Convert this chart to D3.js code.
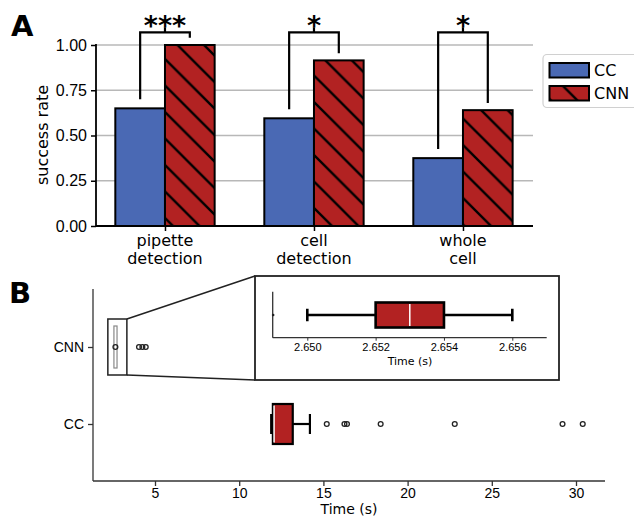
<!DOCTYPE html>
<html>
<head>
<meta charset="utf-8">
<script src="https://cdn.jsdelivr.net/npm/d3@7"></script>
<style>
  body { margin: 0; background: #fff; }
  svg { font-family: "DejaVu Sans", sans-serif; }
</style>
</head>
<body>
<div id="chart"></div>
<script>
// panel A data
var groups = ["pipette\ndetection", "cell\ndetection", "whole\ncell"];
var ccRate = [0.65, 0.595, 0.375];
var cnnRate = [1.0, 0.915, 0.64];
var stars = ["***", "*", "*"];
var rateTicks = [0, 0.25, 0.5, 0.75, 1.0];

// panel B data (whisker low, q1, median, q3, whisker high)
var methods = ["CNN", "CC"];
var ccBox = [11.9, 12.0, 12.07, 13.18, 14.2];
var ccOutliers = [15.2, 16.25, 16.4, 18.4, 22.8, 29.2, 30.4];
var cnnBox = [2.650, 2.652, 2.653, 2.654, 2.656];
var cnnOutliers = [2.649, 4.05, 4.25, 4.45];
var timeTicks = [5, 10, 15, 20, 25, 30];
var insetTicks = [2.650, 2.652, 2.654, 2.656];

var blue = "#4a69b4", red = "#b22222";

var svg = d3.select("#chart").append("svg")
    .attr("width", 634).attr("height", 516);

// hatch pattern for CNN bars
var defs = svg.append("defs");
var hs = 26.5;
var pat = defs.append("pattern")
    .attr("id", "hatch")
    .attr("patternUnits", "userSpaceOnUse")
    .attr("width", hs).attr("height", hs);
pat.append("rect").attr("width", hs).attr("height", hs).attr("fill", red);
pat.append("path")
    .attr("d", "M-2,-2L" + (hs + 2) + "," + (hs + 2) + "M" + (hs - 2) + ",-2L" + (hs + 2) + ",2M-2," + (hs - 2) + "L2," + (hs + 2))
    .attr("stroke", "#000").attr("stroke-width", 2.4);

// ---------- panel A ----------
var xA = d3.scaleLinear().domain([-0.463, 2.47]).range([96, 533]);
var yA = d3.scaleLinear().domain([0, 1]).range([226, 45]);
var bw = 1 / 3;

var gA = svg.append("g");

// grid
gA.selectAll(".grid").data(rateTicks.slice(1)).enter().append("line")
    .attr("x1", xA.range()[0]).attr("x2", xA.range()[1])
    .attr("y1", d => yA(d)).attr("y2", d => yA(d))
    .attr("stroke", "#b8b8b8").attr("stroke-width", 1.3);

// bars
gA.selectAll(".cc").data(ccRate).enter().append("rect")
    .attr("x", (d, i) => xA(i - bw))
    .attr("width", xA(bw) - xA(0))
    .attr("y", d => yA(d))
    .attr("height", d => yA(0) - yA(d))
    .attr("fill", blue).attr("stroke", "#000").attr("stroke-width", 2);

gA.selectAll(".cnn").data(cnnRate).enter().append("rect")
    .attr("x", (d, i) => xA(i))
    .attr("width", xA(bw) - xA(0))
    .attr("y", d => yA(d))
    .attr("height", d => yA(0) - yA(d))
    .attr("fill", "url(#hatch)").attr("stroke", "#000").attr("stroke-width", 2);

// axes
var yAxisA = d3.axisLeft(yA).tickValues(rateTicks).tickFormat(d3.format(".2f")).tickSize(5).tickPadding(4);
var ay = gA.append("g").attr("transform", "translate(96,0)").call(yAxisA);
ay.select(".domain").attr("stroke-width", 1.8).attr("d", "M0," + yA(0) + "V" + (yA(1) - 1));
ay.selectAll(".tick line").attr("stroke-width", 1.5);
ay.selectAll("text").attr("font-size", 16).attr("fill", "#000");

var xAxisA = d3.axisBottom(xA).tickValues([0, 1, 2]).tickFormat("").tickSize(5);
var ax = gA.append("g").attr("transform", "translate(0,226)").call(xAxisA);
ax.select(".domain").attr("stroke-width", 1.8).attr("d", "M96,0H533");
ax.selectAll(".tick line").attr("stroke-width", 1.5);

groups.forEach(function(g, i) {
  var t = gA.append("text").attr("text-anchor", "middle").attr("font-size", 16);
  g.split("\n").forEach(function(line, j) {
    t.append("tspan").attr("x", xA(i)).attr("y", 246 + j * 18).text(line);
  });
});

gA.append("text")
    .attr("transform", "translate(48,135) rotate(-90)")
    .attr("text-anchor", "middle").attr("font-size", 16)
    .text("success rate");

// significance brackets
var topY = yA(1.07);
groups.forEach(function(g, i) {
  var xl = xA(i - bw / 2), xr = xA(i + bw / 2), xm = (xl + xr) / 2;
  gA.append("path")
      .attr("d", "M" + xl + "," + yA(ccRate[i] + 0.05) + "V" + topY + "H" + xr + "V" + yA(cnnRate[i] + 0.04) +
                 "M" + xm + "," + topY + "V" + (topY - 5))
      .attr("fill", "none").attr("stroke", "#000").attr("stroke-width", 2.2);
  gA.append("text")
      .attr("x", xm).attr("y", topY + 3)
      .attr("text-anchor", "middle").attr("font-size", 27).attr("font-weight", "bold")
      .text(stars[i]);
});

// legend
var lg = svg.append("g");
lg.append("rect").attr("x", 543).attr("y", 54.5).attr("width", 100).attr("height", 53)
    .attr("rx", 4).attr("fill", "#fff").attr("stroke", "#d0d0d0").attr("stroke-width", 1.2);
lg.append("rect").attr("x", 549.5).attr("y", 63).attr("width", 39.5).attr("height", 14.5)
    .attr("fill", blue).attr("stroke", "#000").attr("stroke-width", 2);
lg.append("rect").attr("x", 549.5).attr("y", 86).attr("width", 39.5).attr("height", 14.5)
    .attr("fill", "url(#hatch)").attr("stroke", "#000").attr("stroke-width", 2);
lg.append("text").attr("x", 594).attr("y", 76).attr("font-size", 16).text("CC");
lg.append("text").attr("x", 594).attr("y", 99).attr("font-size", 16).text("CNN");

// panel letters
svg.append("text").attr("x", 11).attr("y", 36).attr("font-size", 29).attr("font-weight", "bold").text("A");
svg.append("text").attr("x", 9).attr("y", 303).attr("font-size", 29).attr("font-weight", "bold").text("B");

// ---------- panel B ----------
var xB = d3.scaleLinear().domain([5, 30]).range([155, 576]);
var yB = d3.scalePoint().domain(methods).range([347, 424]);
var gB = svg.append("g");

var xAxisB = d3.axisBottom(xB).tickValues(timeTicks).tickSize(5).tickPadding(2);
var bx = gB.append("g").attr("transform", "translate(0,481)").call(xAxisB);
bx.select(".domain").attr("d", "M93,0H605").attr("stroke", "#333").attr("stroke-width", 1.3);
bx.selectAll(".tick line").attr("stroke", "#333").attr("stroke-width", 1.3);
bx.selectAll("text").attr("font-size", 14).attr("fill", "#000");

var yAxisB = d3.axisLeft(yB).tickSize(5).tickPadding(4);
var by = gB.append("g").attr("transform", "translate(93,0)").call(yAxisB);
by.select(".domain").attr("d", "M0,289V481").attr("stroke", "#333").attr("stroke-width", 1.3);
by.selectAll(".tick line").attr("stroke", "#333").attr("stroke-width", 1.3);
by.selectAll("text").attr("font-size", 14).attr("fill", "#000");

gB.append("text").attr("x", 349).attr("y", 514).attr("text-anchor", "middle")
    .attr("font-size", 14).text("Time (s)");

// box with whiskers, caps and a white median line
function drawBox(g, x, yc, h, b, opts) {
  g.append("line").attr("x1", x(b[0])).attr("x2", x(b[1])).attr("y1", yc).attr("y2", yc)
      .attr("stroke", "#000").attr("stroke-width", opts.lw);
  g.append("line").attr("x1", x(b[3])).attr("x2", x(b[4])).attr("y1", yc).attr("y2", yc)
      .attr("stroke", "#000").attr("stroke-width", opts.lw);
  [b[0], b[4]].forEach(function(v) {
    g.append("line").attr("x1", x(v)).attr("x2", x(v)).attr("y1", yc - h / 2).attr("y2", yc + h / 2)
        .attr("stroke", "#000").attr("stroke-width", opts.lw);
  });
  g.append("rect").attr("x", x(b[1])).attr("width", x(b[3]) - x(b[1]))
      .attr("y", yc - h).attr("height", 2 * h)
      .attr("fill", red).attr("stroke", "#000").attr("stroke-width", opts.lw);
  g.append("line").attr("x1", x(b[2])).attr("x2", x(b[2])).attr("y1", yc - h + 1.5).attr("y2", yc + h - 1.5)
      .attr("stroke", "#fff").attr("stroke-width", 1.5);
}
drawBox(gB, xB, yB("CC"), 20, ccBox, {lw: 2.2});

gB.selectAll(".ccout").data(ccOutliers).enter().append("circle")
    .attr("cx", d => xB(d)).attr("cy", yB("CC")).attr("r", 2.4)
    .attr("fill", "none").attr("stroke", "#222").attr("stroke-width", 1.3);

// CNN box in main panel (tiny)
gB.append("rect")
    .attr("x", xB(cnnBox[0]) - 1.5).attr("width", xB(cnnBox[4]) - xB(cnnBox[0]) + 3)
    .attr("y", yB("CNN") - 21).attr("height", 42)
    .attr("fill", "#fff").attr("stroke", "#888").attr("stroke-width", 1.2);
gB.selectAll(".cnnout").data(cnnOutliers).enter().append("circle")
    .attr("cx", d => xB(d)).attr("cy", yB("CNN")).attr("r", 2.4)
    .attr("fill", "none").attr("stroke", "#222").attr("stroke-width", 1.3);

// zoom rectangle and connectors
var zx0 = xB(2.2), zx1 = xB(3.33);
gB.append("rect").attr("x", zx0).attr("y", 319).attr("width", zx1 - zx0).attr("height", 56)
    .attr("fill", "none").attr("stroke", "#222").attr("stroke-width", 1.5);
gB.append("path").attr("d", "M" + zx1 + ",319L255,276M" + zx1 + ",375L255,380")
    .attr("fill", "none").attr("stroke", "#222").attr("stroke-width", 1.5);

// inset
var gI = svg.append("g");
gI.append("rect").attr("x", 255).attr("y", 276).attr("width", 304).attr("height", 104)
    .attr("fill", "#fff").attr("stroke", "#222").attr("stroke-width", 1.8);
var xI = d3.scaleLinear().domain([2.650, 2.656]).range([307.3, 512.3]);
var iy0 = 337.7, iyc = 315;

var xAxisI = d3.axisBottom(xI).tickValues(insetTicks).tickFormat(d3.format(".3f")).tickSize(3).tickPadding(3);
var ix = gI.append("g").attr("transform", "translate(0," + iy0 + ")").call(xAxisI);
ix.select(".domain").attr("d", "M272.7,0H546.7").attr("stroke", "#333").attr("stroke-width", 1.3);
ix.selectAll(".tick line").attr("stroke", "#333");
ix.selectAll("text").attr("font-size", 11).attr("fill", "#000");
gI.append("line").attr("x1", 272.7).attr("x2", 272.7).attr("y1", 291.7).attr("y2", iy0)
    .attr("stroke", "#333").attr("stroke-width", 1.3);
gI.append("text").attr("x", 410).attr("y", 365).attr("text-anchor", "middle")
    .attr("font-size", 11).text("Time (s)");

drawBox(gI, xI, iyc, 12.5, cnnBox, {lw: 2.6});
gI.selectAll(".iout").data(cnnOutliers.filter(d => d >= 2.649 && d < 2.66)).enter().append("circle")
    .attr("cx", d => Math.max(xI(d), 272.7)).attr("cy", iyc).attr("r", 1.3)
    .attr("fill", "#222");
</script>
</body>
</html>
